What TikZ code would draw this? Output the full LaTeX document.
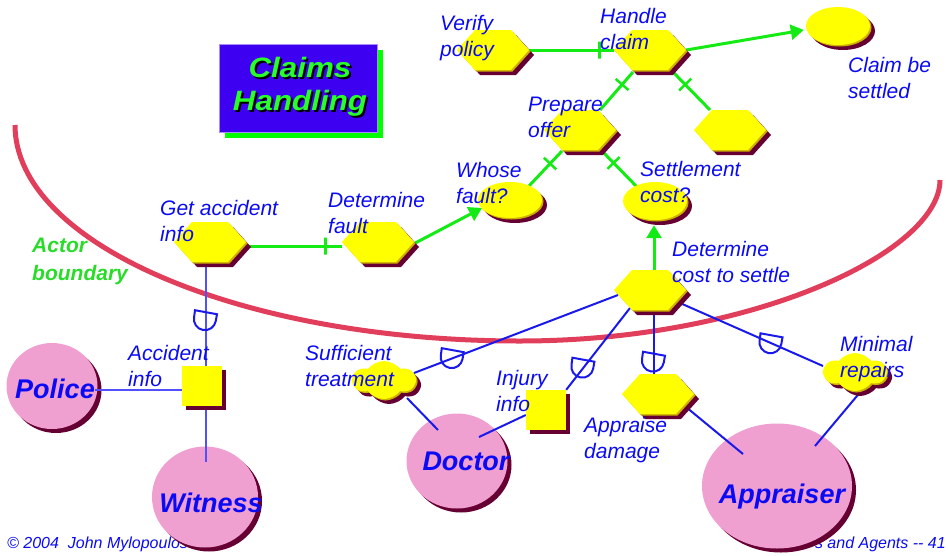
\documentclass[tikz,border=0pt]{standalone}
\usepackage{graphicx}
\usepackage{fontspec}
\setmainfont{Liberation Sans}
\usetikzlibrary{shapes.geometric,shapes.symbols,shadows,arrows.meta,calc}

\definecolor{goalyellow}{RGB}{255,255,0}
\definecolor{rimgold}{RGB}{205,175,0}
\definecolor{shadowmaroon}{RGB}{102,0,51}
\definecolor{actorpink}{RGB}{240,160,208}
\definecolor{textblue}{RGB}{10,10,245}
\definecolor{linkblue}{RGB}{25,25,235}
\definecolor{linkblue2}{RGB}{80,80,255}
\definecolor{linkgreen}{RGB}{20,235,20}
\definecolor{boundaryred}{RGB}{225,62,92}
\definecolor{titleblue}{RGB}{62,0,240}
\definecolor{titlegreen}{RGB}{40,255,40}
\definecolor{labelgreen}{RGB}{40,220,40}

\pgfdeclarelayer{backdrop}
\pgfdeclarelayer{actors}
\pgfdeclarelayer{links}
\pgfsetlayers{backdrop,actors,links,main}

\tikzset{
  yshade/.style={
    general shadow={fill=shadowmaroon, shadow xshift=5pt, shadow yshift=-5pt},
    general shadow={fill=rimgold, shadow xshift=1.5pt, shadow yshift=-1.5pt}},
  hexa/.style={signal, signal to=east and west, signal pointer angle=96,
    fill=goalyellow, minimum width=72pt, minimum height=40pt, inner sep=0pt, yshade},
  goalell/.style={ellipse, fill=goalyellow, minimum width=64pt, minimum height=38pt,
    inner sep=0pt, yshade},
  softcloud/.style={cloud, cloud puffs=6, cloud puff arc=105, aspect=1.6, fill=goalyellow,
    minimum width=62pt, minimum height=38pt, inner sep=0pt, yshade},
  resbox/.style={rectangle, fill=goalyellow, minimum size=40pt, inner sep=0pt,
    general shadow={fill=shadowmaroon, shadow xshift=4pt, shadow yshift=-4pt}},
  actor/.style={ellipse, fill=actorpink, inner sep=0pt,
    general shadow={fill=shadowmaroon, shadow xshift=4pt, shadow yshift=-4pt}},
  lbl/.style={anchor=north west, inner sep=0pt, align=left, text=textblue,
    font=\fontsize{21}{26}\selectfont\itshape},
  actname/.style={anchor=base, inner sep=0pt, text=textblue,
    font=\fontsize{27}{30}\selectfont\bfseries\itshape},
  footnote/.style={inner sep=0pt, text=textblue, font=\fontsize{16}{18}\selectfont\itshape},
  gline/.style={draw=linkgreen, line width=3pt},
  garrow/.style={gline, -{Triangle[length=13pt,width=15pt]}},
  tickbar/.style={sloped, draw=linkgreen, line width=2.5pt, minimum width=0pt,
    minimum height=17pt, inner sep=0pt},
  bline/.style={draw=linkblue, line width=2pt},
  bline2/.style={draw=linkblue2, line width=2pt},
  depmark/.pic={\draw[linkblue, line width=2pt] (-11,-10) -- (11,-6) -- (9.75,0.9)
    arc[start angle=10.3, end angle=190.3, radius=11] -- cycle;},
  titlebox/.style={rectangle, fill=titleblue, draw=titleblue!45!white, line width=0.8pt,
    minimum width=158pt, minimum height=88pt,
    general shadow={fill=green, shadow xshift=6pt, shadow yshift=-6pt}},
  titletext/.style={align=center, inner sep=0pt,
    font=\fontsize{28}{33}\selectfont\bfseries\itshape}
}

\begin{document}
\begin{tikzpicture}[x=1pt,y=-1pt]
\useasboundingbox (0,0) rectangle (948,555);

% footer and actor boundary
\begin{pgfonlayer}{backdrop}
  \node[footnote, anchor=base west] (footleft) at (7,548) {© 2004\ \ John Mylopoulos};
  \node[footnote, anchor=base east] (footright) at (946,548) {s and Agents -{}- 41};
  \draw[boundaryred, line width=5pt] (15,125) .. controls (15,244) and (241,341) .. (520,341)
    .. controls (752,341) and (940,252) .. (940,180);
\end{pgfonlayer}

% actors
\begin{pgfonlayer}{actors}
  \node[actor, minimum width=91pt, minimum height=86pt] (police) at (52,386) {};
  \node[actor, minimum width=106pt, minimum height=101pt] (witness) at (205,497) {};
  \node[actor, minimum width=101pt, minimum height=95pt] (doctor) at (457,461) {};
  \node[actor, minimum width=150pt, minimum height=125pt] (appraiser) at (777,486) {};
\end{pgfonlayer}

% title with its dropped text shade
\node[titlebox] (titlebox) at (298,88) {};
\node[titletext, text=black] (titleshade) at (302,89)
  {\scalebox{1.12}[1]{Claims}\\\scalebox{1.12}[1]{Handling}};
\node[titletext, text=titlegreen] (titletext) at (300,87)
  {\scalebox{1.12}[1]{Claims}\\\scalebox{1.12}[1]{Handling}};

% tasks
\node[hexa] (vp) at (493,50) {};
\node[hexa] (hc) at (650,50) {};
\node[hexa] (po) at (580,130) {};
\node[hexa] (rh) at (730,130) {};
\node[hexa] (gai) at (210,242) {};
\node[hexa] (dfa) at (378,242) {};
\node[hexa] (dcs) at (650,290) {};
\node[hexa] (ad) at (658,394) {};

% goals
\node[goalell] (cbs) at (838,26) {};
\node[goalell, minimum height=36pt] (wf) at (510,200) {};
\node[goalell] (sc) at (655,201) {};

% softgoals
\node[softcloud] (st) at (384,380) {};
\node[softcloud] (mr) at (855,372) {};

% resources
\node[resbox] (ai) at (202,386) {};
\node[resbox] (ii) at (546,410) {};

% links
\begin{pgfonlayer}{links}
  \draw[gline] (vp.east) -- (hc.west) node[tickbar, pos=0.83] (t1) {};
  \draw[garrow] (hc.east) -- ($(cbs.west)+(-2,4)$);
  \draw[gline] ($(hc)+(-17,22)$) -- ($(po)+(20,-20)$) node[tickbar, pos=0.33] (t2) {};
  \draw[gline] ($(hc)+(23,22)$) -- ($(rh)+(-20,-20)$) node[tickbar, pos=0.33] (t3) {};
  \draw[gline] ($(po)+(-18,21)$) -- ($(wf)+(18,-13)$) node[tickbar, pos=0.35] (t4) {};
  \draw[gline] ($(po)+(22,21)$) -- ($(sc)+(-18,-14)$) node[tickbar, pos=0.33] (t5) {};
  \draw[gline] ($(gai.east)+(0,4)$) -- ($(dfa.west)+(0,4)$) node[tickbar, pos=0.83] (t6) {};
  \draw[garrow] ($(dfa.east)+(1,1)$) -- ($(wf)+(-28,8)$);
  \draw[garrow] ($(dcs.north)+(4,0)$) -- ($(sc.south)+(-1,5)$);

  \draw[bline2] ($(gai.south)+(-4,0)$) -- ($(ai.north)+(4,0)$) coordinate[pos=0.56] (d1);
  \draw[bline2] ($(ai.west)+(0,4)$) -- ($(police.east)+(-3,4)$);
  \draw[bline2] ($(ai.south)+(4,0)$) -- ($(witness.north)+(1,16)$);
  \draw[bline] ($(dcs)+(-32,5)$) -- ($(st)+(30,-7)$) coordinate[pos=0.81] (d2);
  \draw[bline] ($(dcs)+(-20,18)$) -- (ii.north east) coordinate[pos=0.73] (d3);
  \draw[bline] ($(dcs.south)+(4,0)$) -- ($(ad.north)+(-4,0)$) coordinate[pos=0.81] (d4);
  \draw[bline] ($(dcs)+(30,13)$) -- ($(mr)+(-32,-6)$) coordinate[pos=0.64] (d5);
  \draw[bline] ($(st)+(23,18)$) -- ($(doctor)+(-19,-31)$);
  \draw[bline] ($(ii.west)+(0,5)$) -- ($(doctor)+(22,-24)$);
  \draw[bline] ($(ad)+(28,13)$) -- ($(appraiser)+(-34,-32)$);
  \draw[bline] ($(mr)+(7,18)$) -- ($(appraiser)+(38,-40)$);

  \pic at (d1) {depmark};
  \pic at (d2) {depmark};
  \pic at (d3) {depmark};
  \pic at (d4) {depmark};
  \pic at (d5) {depmark};
\end{pgfonlayer}

% actor names
\node[actname] (policename) at (55,398) {Police};
\node[actname] (witnessname) at (211,512) {Witness};
\node[actname] (doctorname) at (466,470) {Doctor};
\node[actname] (appraisername) at (782,503) {Appraiser};

% element labels
\node[lbl] (lvp) at (440,15) {Verify\\policy};
\node[lbl] (lhc) at (600,8) {Handle\\claim};
\node[lbl] (lcbs) at (848,57) {Claim be\\settled};
\node[lbl] (lpo) at (528,97) {Prepare\\offer};
\node[lbl] (lwf) at (456,162) {Whose\\fault?};
\node[lbl] (lsc) at (640,161) {Settlement\\cost?};
\node[lbl] (lgai) at (160,200) {Get accident\\info};
\node[lbl] (ldfa) at (328,192) {Determine\\fault};
\node[lbl] (ldcs) at (672,241) {Determine\\cost to settle};
\node[lbl] (lai) at (128,345) {Accident\\info};
\node[lbl] (lst) at (305,345) {Sufficient\\treatment};
\node[lbl] (lii) at (496,370) {Injury\\info};
\node[lbl] (lad) at (584,417) {Appraise\\damage};
\node[lbl] (lmr) at (840,336) {Minimal\\repairs};
\node[lbl, text=labelgreen, font=\fontsize{21}{28}\selectfont\bfseries\itshape] (lbound) at (32,238) {Actor\\boundary};

\end{tikzpicture}
\end{document}
